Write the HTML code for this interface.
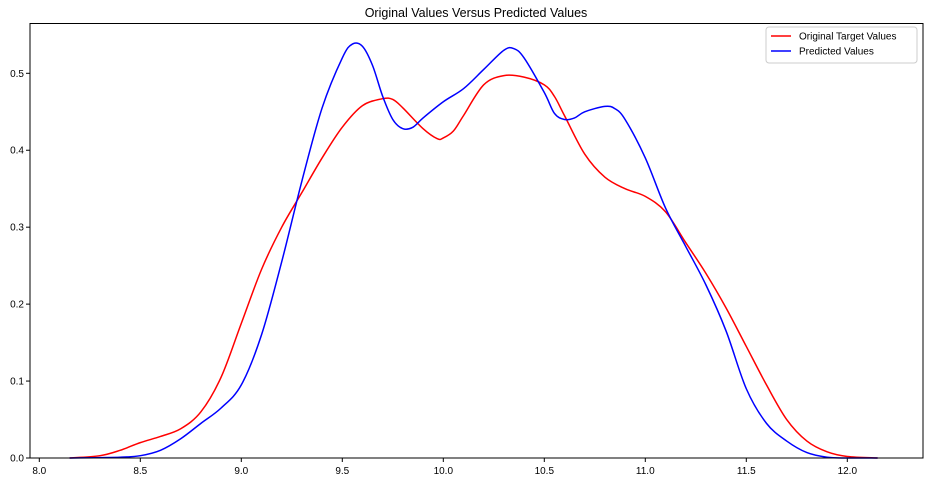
<!DOCTYPE html>
<html><head><meta charset="utf-8"><style>
body{margin:0;background:#fff;}
svg{display:block;font-family:"Liberation Sans",sans-serif;}
</style></head><body>
<svg id="chart" width="933" height="482"></svg>
<script>
const xTicks=[8.0,8.5,9.0,9.5,10.0,10.5,11.0,11.5,12.0];
const yTicks=[0.0,0.1,0.2,0.3,0.4,0.5];
const redX=[8.15,8.3,8.4,8.5,8.6,8.7,8.8,8.9,9.0,9.1,9.2,9.3,9.4,9.5,9.6,9.7,9.75,9.8,9.9,9.97,10.0,10.05,10.1,10.2,10.3,10.4,10.5,10.55,10.6,10.7,10.8,10.9,11.0,11.1,11.2,11.3,11.4,11.5,11.6,11.7,11.8,11.9,12.0,12.15];
const redY=[0,0.003,0.01,0.02,0.028,0.038,0.06,0.105,0.175,0.245,0.30,0.345,0.39,0.43,0.458,0.467,0.466,0.455,0.428,0.415,0.416,0.425,0.445,0.485,0.497,0.495,0.485,0.47,0.445,0.395,0.365,0.35,0.34,0.32,0.28,0.24,0.195,0.145,0.095,0.05,0.022,0.008,0.002,0];
const blueX=[8.15,8.4,8.5,8.6,8.7,8.8,8.9,9.0,9.1,9.2,9.3,9.4,9.5,9.55,9.6,9.65,9.7,9.75,9.8,9.85,9.9,10.0,10.1,10.2,10.3,10.35,10.4,10.5,10.55,10.6,10.65,10.7,10.8,10.85,10.9,11.0,11.1,11.2,11.3,11.4,11.5,11.6,11.7,11.8,11.9,12.0,12.15];
const blueY=[0,0.001,0.003,0.01,0.025,0.045,0.065,0.095,0.16,0.255,0.36,0.455,0.52,0.538,0.535,0.51,0.47,0.44,0.428,0.43,0.442,0.463,0.48,0.505,0.53,0.532,0.52,0.475,0.448,0.44,0.442,0.45,0.457,0.454,0.44,0.39,0.325,0.275,0.225,0.165,0.09,0.045,0.022,0.007,0.001,0,0];
const L=30,R=923,T=23.5,B=458;
const sx=v=>39.3+(v-8)*202;
const sy=v=>B-v*769.4;
const svg=document.getElementById('chart');
const NS='http://www.w3.org/2000/svg';
function el(t,a,p){const e=document.createElementNS(NS,t);for(const k in a)e.setAttribute(k,a[k]);(p||svg).appendChild(e);return e;}
function path(xs,ys){const p=xs.map((x,i)=>[sx(x),sy(ys[i])]);let d='M'+p[0][0]+','+p[0][1];
for(let i=0;i<p.length-1;i++){const p0=p[i-1]||p[i],p1=p[i],p2=p[i+1],p3=p[i+2]||p2;
d+=' C'+(p1[0]+(p2[0]-p0[0])/6)+','+(p1[1]+(p2[1]-p0[1])/6)+' '+(p2[0]-(p3[0]-p1[0])/6)+','+(p2[1]-(p3[1]-p1[1])/6)+' '+p2[0]+','+p2[1];}return d;}
let t=el('text',{x:476,y:17,'text-anchor':'middle','font-size':12.5,fill:'#000'});t.textContent='Original Values Versus Predicted Values';


xTicks.forEach(v=>{const g=el('g',{});


el('line',{x1:sx(v),x2:sx(v),y1:B,y2:B+4,stroke:'#000'},g);
const tx=el('text',{x:sx(v),y:B+16,'text-anchor':'middle','font-size':10,fill:'#000'},g);tx.textContent=v.toFixed(1);});
yTicks.forEach(v=>{const g=el('g',{});


el('line',{x1:L-4,x2:L,y1:sy(v),y2:sy(v),stroke:'#000'},g);
const tx=el('text',{x:L-6,y:sy(v)+3.5,'text-anchor':'end','font-size':10,fill:'#000'},g);tx.textContent=v.toFixed(1);});
let r=el('path',{d:path(redX,redY),fill:'none',stroke:'#ff0000','stroke-width':1.5});


let b=el('path',{d:path(blueX,blueY),fill:'none',stroke:'#0000ff','stroke-width':1.5});


let f=el('rect',{x:L,y:T,width:R-L,height:B-T,fill:'none',stroke:'#000','stroke-width':1});


const lg=el('g',{});


el('rect',{x:766,y:27,width:151,height:36,rx:3,fill:'#fff',stroke:'#ccc'},lg);
[['Original Target Values','#ff0000',36],['Predicted Values','#0000ff',51]].forEach(([n,c,y])=>{
const g=el('g',{},lg);


el('line',{x1:771,x2:791,y1:y,y2:y,stroke:c,'stroke-width':1.5},g);
const tx=el('text',{x:799,y:y+3.5,'font-size':10,fill:'#000'},g);tx.textContent=n;});
</script>
</body></html>
